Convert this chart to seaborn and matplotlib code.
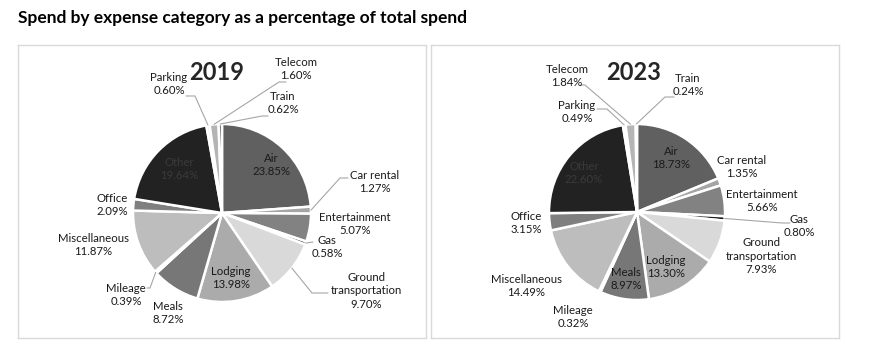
import numpy as np
import seaborn as sns
import matplotlib.pyplot as plt

sns.set_theme(style="white")
plt.rcParams['font.family'] = ['Lato', 'DejaVu Sans']

# data
categories = ["Air", "Car rental", "Entertainment", "Gas", "Ground transportation",
              "Lodging", "Meals", "Mileage", "Miscellaneous", "Office", "Other",
              "Parking", "Telecom", "Train"]
pct_2019 = [23.85, 1.27, 5.07, 0.58, 9.70, 13.98, 8.72, 0.39, 11.87, 2.09, 19.64, 0.60, 1.60, 0.62]
pct_2023 = [18.73, 1.35, 5.66, 0.80, 7.93, 13.30, 8.97, 0.32, 14.49, 3.15, 22.60, 0.49, 1.84, 0.24]
years = ["2019", "2023"]

colors = ["#606060", "#a5a5a5", "#828282", "#1e1e1e", "#d9d9d9", "#ababab", "#777777",
          "#404040", "#bdbdbd", "#7f7f7f", "#222222", "#eeeeee", "#b5b5b5", "#5a5a5a"]

W, H = 871, 363

# layout in image pixels (y measured from top)
panels = {"2019": dict(box=(18, 45, 426, 338), center=(222, 213), radius=89, title=(217, 73)),
          "2023": dict(box=(431, 45, 839, 338), center=(637, 212), radius=88, title=(634, 73))}

# label centres, image pixels
label_pos = {
    "2019": {"Air": (271, 165), "Car rental": (375, 182), "Entertainment": (355, 224),
             "Gas": (327, 247), "Ground transportation": (366, 291), "Lodging": (231, 278),
             "Meals": (168, 313), "Mileage": (126, 295), "Miscellaneous": (93, 245),
             "Office": (112, 205), "Other": (179, 169), "Parking": (169, 84),
             "Telecom": (296, 69), "Train": (283, 103)},
    "2023": {"Air": (671, 158), "Car rental": (742, 167), "Entertainment": (762, 201),
             "Gas": (799, 226), "Ground transportation": (761, 256), "Lodging": (666, 267),
             "Meals": (626, 279), "Mileage": (573, 317), "Miscellaneous": (526, 286),
             "Office": (526, 223), "Other": (584, 173), "Parking": (577, 112),
             "Telecom": (567, 76), "Train": (688, 85)},
}
# leader lines: elbow point and end of the short horizontal part
leaders = {
    "2019": {"Parking": (195, 96, 186), "Telecom": (279, 82, 286), "Train": (262, 116, 268),
             "Car rental": (340, 178, 348), "Gas": (313, 242, 313),
             "Ground transportation": (312, 293, 328), "Mileage": (150, 288, 147)},
    "2023": {"Telecom": (585, 85, 580), "Parking": (607, 109, 597), "Train": (665, 97, 674),
             "Gas": (782, 223, 790)},
}

fig = plt.figure(figsize=(W / 100, H / 100), dpi=100)
fig.text(18 / W, 1 - 18 / H, "Spend by expense category as a percentage of total spend",
         fontsize=12.5, fontweight="bold", ha="left", va="center", color="black")

for year, values in zip(years, [pct_2019, pct_2023]):
    p = panels[year]
    x0, y0, x1, y1 = p["box"]
    ax = fig.add_axes([x0 / W, (H - y1) / H, (x1 - x0) / W, (y1 - y0) / H])
    cx, cy = p["center"][0], H - p["center"][1]
    r = p["radius"]
    wedges, _ = ax.pie(values, colors=colors, startangle=90, counterclock=False,
                       center=(cx, cy), radius=r,
                       wedgeprops=dict(edgecolor="white", linewidth=1.8))
    ax.set_xlim(x0, x1)
    ax.set_ylim(H - y1, H - y0)
    ax.set_frame_on(True)
    for s in ax.spines.values():
        s.set_color("#d9d9d9")
        s.set_linewidth(1)
    ax.set_xticks([])
    ax.set_yticks([])

    tx, ty = p["title"]
    ax.text(tx, H - ty, year, fontsize=17, fontweight="bold", ha="center", va="center")

    for cat, val, w in zip(categories, values, wedges):
        name = cat.replace("Ground ", "Ground\n")
        lx, ly = label_pos[year][cat]
        col = "#3a3a3a" if cat == "Other" else "#1a1a1a"
        ax.text(lx, H - ly, f"{name}\n{val:.2f}%", fontsize=8.2, ha="center", va="center",
                linespacing=1.3, color=col)
        if cat in leaders[year]:
            ex, ey, hx = leaders[year][cat]
            th = np.deg2rad((w.theta1 + w.theta2) / 2)
            sx, sy = cx + r * np.cos(th), cy + r * np.sin(th)
            ax.plot([sx, ex, hx], [sy, H - ey, H - ey], color="#a6a6a6", lw=0.8)

plt.savefig("out.png", dpi=100)
